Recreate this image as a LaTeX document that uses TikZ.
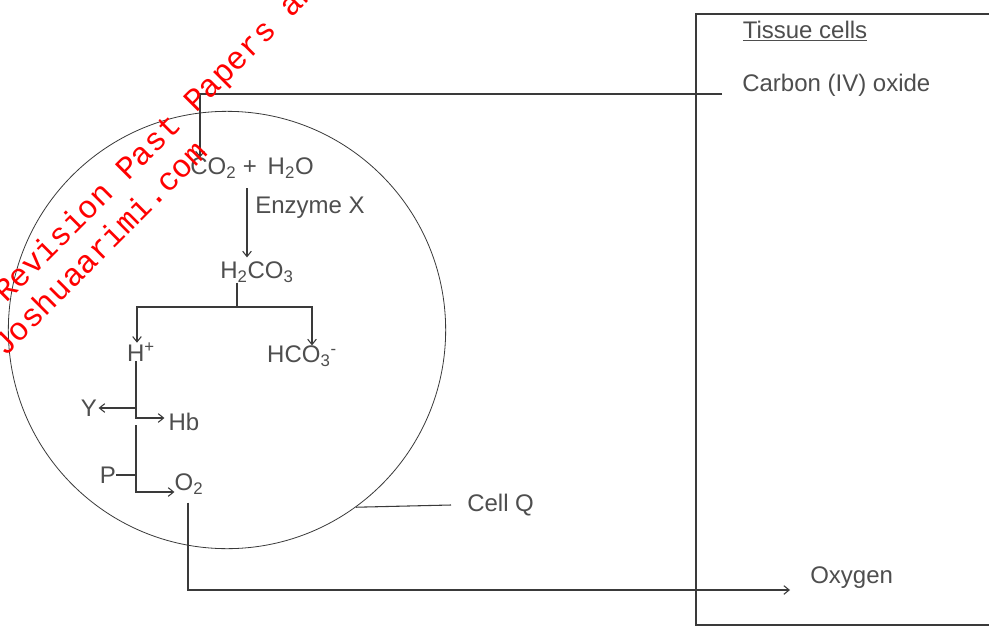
\documentclass[tikz,border=0pt]{standalone}
\usepackage{fontspec}
\setmainfont{Liberation Sans}
\newfontfamily\markfont{Liberation Mono}
\usetikzlibrary{arrows.meta,positioning}
\definecolor{ink}{HTML}{3A3A3A}
\definecolor{label}{HTML}{4E4E4E}
\definecolor{stamp}{HTML}{FF0000}

\tikzset{
  lbl/.style={text=label, inner sep=0pt, font=\fontsize{18}{21}\selectfont},
  conn/.style={draw=ink, line width=0.8pt},
  arr/.style={conn, -{Straight Barb[length=4pt,width=6.5pt]}},
  wmark/.style={text=stamp, rotate=45, anchor=base west, inner sep=0pt,
    font=\markfont\fontsize{24}{29}\selectfont}
}

\begin{document}
\begin{tikzpicture}[x=0.75pt, y=-0.75pt]
  \useasboundingbox (0,0) rectangle (989,628);
  \clip (0,0) rectangle (989,628);
  \fill[white] (0,0) rectangle (989,628);

  % tissue cells side
  \draw[conn] (696,14) rectangle (1000,625);
  \node[lbl] (tissue) at (805,31) {\underline{Tissue cells}};
  \node[lbl, anchor=west] (carbon) at (742,85) {Carbon (IV) oxide};
  \node[lbl, anchor=west] (oxygen) at (810,578) {Oxygen};

  % cell Q
  \node[draw=ink, line width=0.6pt, circle, inner sep=0pt, minimum size=328pt] (cell) at (227,330) {};
  \node[lbl, anchor=west] (cellq) at (467,505) {Cell Q};
  \draw[conn] (cell.-54) -- ([xshift=-12pt]cellq.west);

  \node[lbl] (reac) at (252,168) {CO\textsubscript{2} +\, H\textsubscript{2}O};
  \node[lbl, anchor=west] (enz) at (255,208) {Enzyme X};
  \node[lbl] (acid) at (257,272) {H\textsubscript{2}CO\textsubscript{3}};
  \node[lbl] (hplus) at (141,352) {H\textsuperscript{+}};
  \node[lbl] (bicarb) at (302,356) {HCO\textsubscript{3}\textsuperscript{-}};
  \node[lbl] (ylab) at (89,408) {Y};
  \node[lbl] (hb) at (184,422) {Hb};
  \node[lbl] (plab) at (108,475) {P};
  \node[lbl] (otwo) at (189,484) {O\textsubscript{2}};

  % elbows
  \coordinate (bend) at (200,94);
  \coordinate (ztop) at (247,188);
  \coordinate (split) at (237,307);
  \coordinate (hleft) at (137,307);
  \coordinate (hright) at (312,307);
  \coordinate (yfork) at (136,408);
  \coordinate (spine) at (136,418);
  \coordinate (spinelow) at (136,425);
  \coordinate (ocorner) at (136,492);
  \coordinate (outcorner) at (188,590);

  \draw[arr] ([xshift=-15pt]carbon.west |- bend) -- (bend) -- (bend |- reac.north);
  \draw[arr, shorten >=3pt] (ztop) -- (ztop |- acid.north);
  \draw[conn] (acid.south -| split) -- (split);
  \draw[arr] (split) -- (hleft) -- (hleft |- hplus.north);
  \draw[arr] (split) -- (hright) -- (hright |- bicarb.north);
  \draw[arr, shorten >=3pt] (hplus.south -| spine) -- (spine) -- (spine -| hb.west);
  \draw[arr, shorten >=1pt] (yfork) -- (yfork -| ylab.east);
  \draw[arr] (spinelow) -- (ocorner) -- (ocorner -| otwo.west);
  \draw[conn] (plab.east) -- (plab.east -| ocorner);
  \draw[arr, shorten <=6pt, shorten >=15pt] (otwo.south -| outcorner) -- (outcorner) -- (outcorner -| oxygen.west);

  % watermark
  \node[wmark] (wmtop) at (6,304) {Revision Past Papers and};
  \node[wmark] (wmlow) at (5,358) {Joshuaarimi.com};
\end{tikzpicture}
\end{document}
